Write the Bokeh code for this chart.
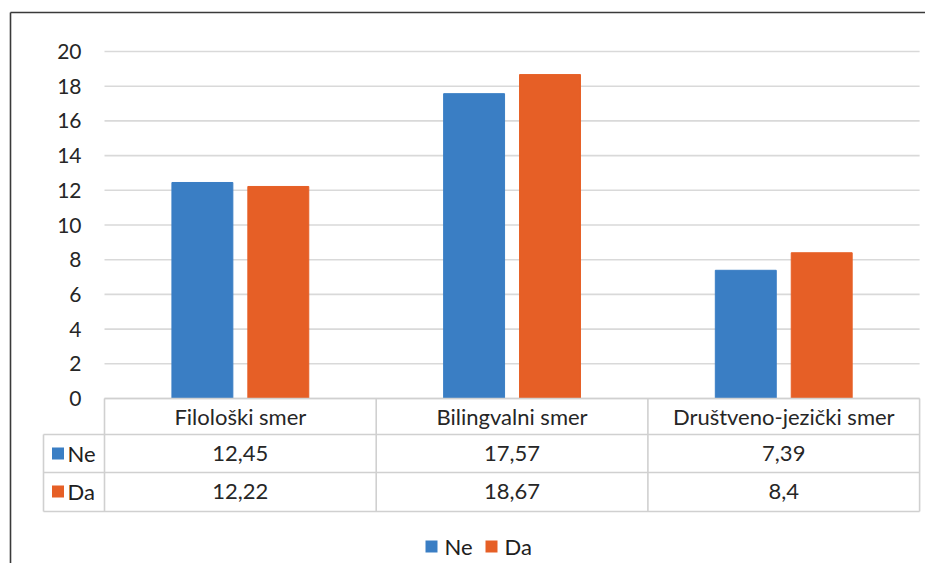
from bokeh.plotting import figure
from bokeh.models import Range1d
from bokeh.embed import file_html
from bokeh.resources import INLINE
from bokeh.core.properties import value

# ---- data ----
categories = ["Filološki smer", "Bilingvalni smer", "Društveno-jezički smer"]
series_names = ["Ne", "Da"]
ne_values = [12.45, 17.57, 7.39]
da_values = [12.22, 18.67, 8.4]
y_ticks = [0, 2, 4, 6, 8, 10, 12, 14, 16, 18, 20]

# ---- style ----
BLUE = "#3A7EC4"
ORANGE = "#E65F26"
TEXT = "#262626"
GRID = "#d9d9d9"
TABLE = "#d0d0d0"
FONT = value("Lato")
FS = "22px"
FS_TICK = "21px"

# ---- layout helpers (screen px -> data) ----
X0_PX, UNIT_X = 104.0, 271.7
Y0_PX, UNIT_Y = 398.0, 17.35


def sx(px):
    return (px - X0_PX) / UNIT_X


def sy(py):
    return (Y0_PX - py) / UNIT_Y


W, H = 925, 563
p = figure(width=W, height=H, output_backend="svg", toolbar_location=None,
           x_range=Range1d(sx(0), sx(W)), y_range=Range1d(sy(H), sy(0)),
           x_axis_location=None, y_axis_location=None, min_border=0,
           outline_line_color=None, background_fill_color="white")
p.grid.visible = False

n = len(categories)
idx = list(range(n))

# outer frame (left and top edges)
p.segment(x0=[sx(10), sx(10)], y0=[sy(12), sy(12)], x1=[sx(10), sx(940)], y1=[sy(600), sy(12)],
          line_color="#3a3a3a", line_width=1.6)

# gridlines
p.segment(x0=[0] * len(y_ticks), x1=[n] * len(y_ticks), y0=y_ticks, y1=y_ticks,
          line_color=GRID, line_width=1.6)

# tick labels
p.text(x=[sx(81)] * len(y_ticks), y=y_ticks, text=[str(t) for t in y_ticks],
       text_align="right", text_baseline="middle", text_font=FONT,
       text_font_size=FS_TICK, text_color=TEXT)

# bars
off, bw = 38 / 272, 61 / 272
p.vbar(x=[i + 0.5 - off for i in idx], top=ne_values, width=bw, bottom=0,
       fill_color=BLUE, line_color=BLUE)
p.vbar(x=[i + 0.5 + off for i in idx], top=da_values, width=bw, bottom=0,
       fill_color=ORANGE, line_color=ORANGE)

# data table
r_hdr, r1, r2 = sy(434), sy(472), sy(511)
left_col = sx(43)
p.segment(x0=[0, left_col, left_col, left_col], x1=[n] * 4,
          y0=[0, r_hdr, r1, r2], y1=[0, r_hdr, r1, r2],
          line_color=TABLE, line_width=1.6)
p.segment(x0=idx + [n], x1=idx + [n], y0=[0] * (n + 1), y1=[r2] * (n + 1),
          line_color=TABLE, line_width=1.6)
p.segment(x0=[left_col], x1=[left_col], y0=[r_hdr], y1=[r2],
          line_color=TABLE, line_width=1.6)

centers = [i + 0.5 for i in idx]
p.text(x=centers, y=[sy(416)] * n, text=categories, text_align="center",
       text_baseline="middle", text_font=FONT, text_font_size=FS, text_color=TEXT)


def fmt(v):
    return str(v).replace(".", ",")


p.text(x=centers, y=[sy(453)] * n, text=[fmt(v) for v in ne_values], text_align="center",
       text_baseline="middle", text_font=FONT, text_font_size=FS, text_color=TEXT)
p.text(x=centers, y=[sy(491)] * n, text=[fmt(v) for v in da_values], text_align="center",
       text_baseline="middle", text_font=FONT, text_font_size=FS, text_color=TEXT)

# legend keys in table
p.scatter(x=[sx(57.5), sx(57.5)], y=[sy(453), sy(491)], marker="square", size=12,
          fill_color=[BLUE, ORANGE], line_color=None)
p.text(x=[sx(67), sx(67)], y=[sy(453), sy(491)], text=series_names, text_align="left",
       text_baseline="middle", text_font=FONT, text_font_size=FS, text_color="#202020")

# bottom legend
p.scatter(x=[sx(431), sx(491)], y=[sy(546), sy(546)], marker="square", size=12,
          fill_color=[BLUE, ORANGE], line_color=None)
p.text(x=[sx(444), sx(504)], y=[sy(546), sy(546)], text=series_names, text_align="left",
       text_baseline="middle", text_font=FONT, text_font_size=FS, text_color="#202020")

open("out.html", "w").write(file_html(p, INLINE))
